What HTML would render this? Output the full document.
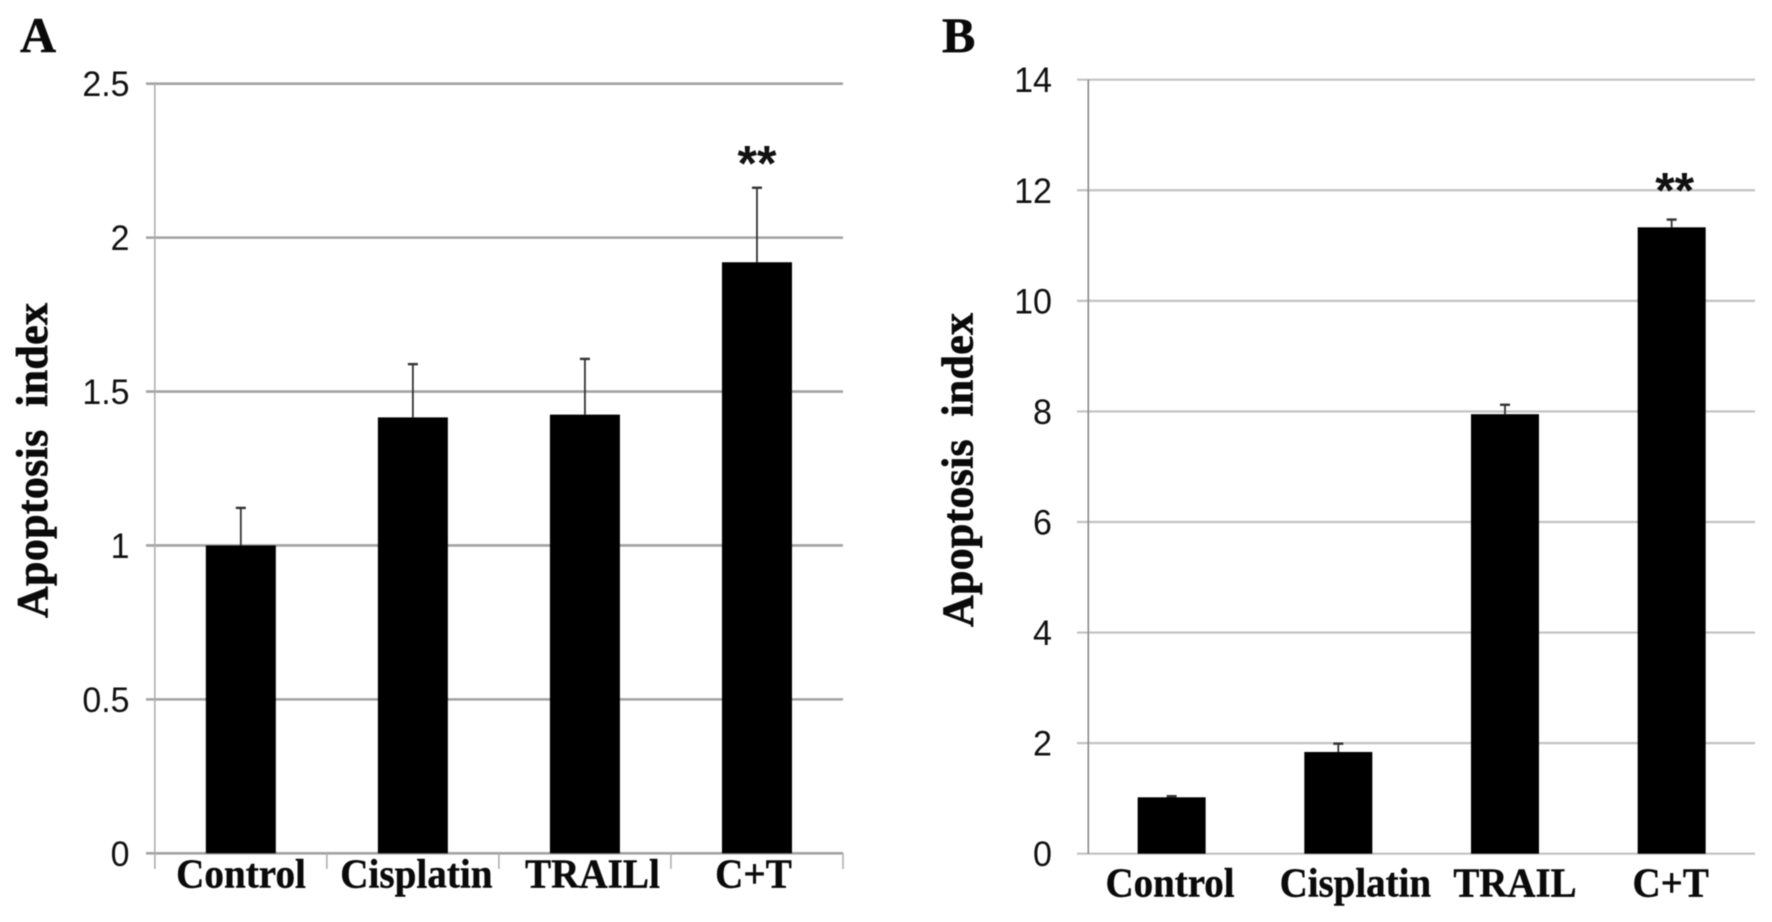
<!DOCTYPE html>
<html lang="en">
<head>
<meta charset="utf-8">
<title>Apoptosis index charts</title>
<style>
html,body{margin:0;padding:0;background:#fff;}
body{width:1772px;height:922px;overflow:hidden;}
svg{display:block;}
.serif{font-family:"Liberation Serif",serif;font-weight:700;fill:#0a0a0a;}
.sans{font-family:"Liberation Sans",sans-serif;fill:#111;}
#content{filter:blur(0.5px);}
</style>
</head>
<body>
<svg id="figure" xmlns="http://www.w3.org/2000/svg" width="1772" height="922" viewBox="0 0 1772 922">
  <rect width="1772" height="922" fill="#fff"/>
  <g id="content">
    <text class="serif" x="20" y="52" font-size="50" stroke="#0a0a0a" stroke-width="0.5">A</text>
    <text class="serif" x="942" y="52" font-size="50" stroke="#0a0a0a" stroke-width="0.5">B</text>
    <g id="panelA"></g>
    <g id="panelB"></g>
  </g>
</svg>
<script>
// Panel A data
const categoriesA = ["Control", "Cisplatin", "TRAILl", "C+T"];
const valuesA = [1.0, 1.416, 1.425, 1.92];
const errorTopsA = [1.122, 1.589, 1.606, 2.162];
const tickValuesA = [0, 0.5, 1, 1.5, 2, 2.5];
const tickLabelsA = ["0", "0.5", "1", "1.5", "2", "2.5"];
const significanceA = ["", "", "", "**"];

// Panel B data
const categoriesB = ["Control", "Cisplatin", "TRAIL", "C+T"];
const valuesB = [1.02, 1.84, 7.95, 11.33];
const errorTopsB = [1.04, 1.99, 8.12, 11.47];
const tickValuesB = [0, 2, 4, 6, 8, 10, 12, 14];
const tickLabelsB = ["0", "2", "4", "6", "8", "10", "12", "14"];
const significanceB = ["", "", "", "**"];

const NS = "http://www.w3.org/2000/svg";

function make(parent, tag, attrs, text) {
  const el = document.createElementNS(NS, tag);
  for (const k in attrs) el.setAttribute(k, attrs[k]);
  if (text !== undefined) el.textContent = text;
  parent.appendChild(el);
  return el;
}

function drawPanel(root, o) {
  const y = v => o.y0 + (o.yMax - v) * (o.y1 - o.y0) / o.yMax;
  const band = (o.xR - o.xL) / o.categories.length;
  const x = i => o.xL + band * (i + 0.5);

  o.ticks.forEach((t, i) => {
    const line = make(root, "line", {x1: o.gridL, x2: o.xR, y1: y(t), y2: y(t), stroke: o.gridColor, "stroke-width": o.gridWidth});
    
    
    const lab = make(root, "text", {transform: "translate(" + o.tickRight + "," + (y(t) + 12.5) + ") scale(" + o.tickScaleX + ",1)", "text-anchor": "end", "font-size": o.tickFont, class: "sans"}, o.tickLabels[i]);
    
    
  });

  const axis = make(root, "line", {x1: o.xL, x2: o.xL, y1: y(o.yMax), y2: o.axisBottom, stroke: o.axisColor, "stroke-width": 1.6});
  
  

  if (o.catTicks) {
    for (let i = 0; i <= o.categories.length; i++) {
      const tx = o.xL + band * i;
      const tick = make(root, "line", {x1: tx, x2: tx, y1: y(0), y2: o.axisBottom, stroke: o.axisColor, "stroke-width": 1.6});
      
      
    }
  }

  o.categories.forEach((c, i) => {
    const err = make(root, "line", {x1: x(i), x2: x(i), y1: y(o.values[i]), y2: y(o.errors[i]), stroke: "#333", "stroke-width": 1.8});
    
    
    const cap = make(root, "line", {x1: x(i) - o.capHalf, x2: x(i) + o.capHalf, y1: y(o.errors[i]), y2: y(o.errors[i]), stroke: "#333", "stroke-width": 2.4});
    
    
    const bar = make(root, "rect", {x: x(i) - o.barW / 2, y: y(o.values[i]), width: o.barW, height: y(0) - y(o.values[i]), fill: "#000"});
    
    
    const lab = make(root, "text", {transform: "translate(" + (x(i) + o.labelDx[i]) + "," + o.catBaseline + ") scale(" + o.catScaleX + ",1)", "text-anchor": "middle", "font-size": o.catFont, class: "serif", stroke: "#0a0a0a", "stroke-width": 0.4}, c);
    
    
    if (o.significance[i]) {
      const star = make(root, "text", {x: x(i) + o.starDx, y: y(o.errors[i]) - o.starGap, "text-anchor": "middle", "font-size": 50, "font-weight": 700, class: "sans", fill: "#000"}, o.significance[i]);
      
      
    }
  });

  const title = make(root, "text", {transform: "translate(" + o.titleX + "," + o.titleBottom + ") rotate(-90)", x: 0, y: 0, "font-size": 44, class: "serif", textLength: o.titleLen, lengthAdjust: "spacing", stroke: "#0a0a0a", "stroke-width": 0.7}, "Apoptosis  index");
  title.style.whiteSpace = "pre";
  
  
}

drawPanel(document.getElementById("panelA"), {
  categories: categoriesA, values: valuesA, errors: errorTopsA,
  ticks: tickValuesA, tickLabels: tickLabelsA, significance: significanceA,
  yMax: 2.5, y0: 83.7, y1: 853.3,
  xL: 154.8, xR: 843, gridL: 146, gridColor: "#a2a2a2", gridWidth: 2.6,
  axisColor: "#b0b0b0", axisBottom: 869, catTicks: true,
  tickRight: 129.5, tickFont: 35, tickScaleX: 0.97,
  barW: 70, capHalf: 5, labelDx: [0.2, 3.5, 7.5, -3.5],
  catBaseline: 887.5, catFont: 41, catScaleX: 0.955, starDx: 0, starGap: 7,
  titleX: 47, titleBottom: 618, titleLen: 315
});

drawPanel(document.getElementById("panelB"), {
  categories: categoriesB, values: valuesB, errors: errorTopsB,
  ticks: tickValuesB, tickLabels: tickLabelsB, significance: significanceB,
  yMax: 14, y0: 79.7, y1: 853.7,
  xL: 1088.3, xR: 1755, gridL: 1077, gridColor: "#c2c2c2", gridWidth: 2.2,
  axisColor: "#8a8a8a", axisBottom: 853.7, catTicks: false,
  tickRight: 1052, tickFont: 35.5, tickScaleX: 0.96,
  barW: 68, capHalf: 5, labelDx: [-1.6, 17, 10, -1],
  catBaseline: 896.5, catFont: 41, catScaleX: 0.95, starDx: 3, starGap: 12,
  titleX: 972.5, titleBottom: 627, titleLen: 314
});
</script>
</body>
</html>
